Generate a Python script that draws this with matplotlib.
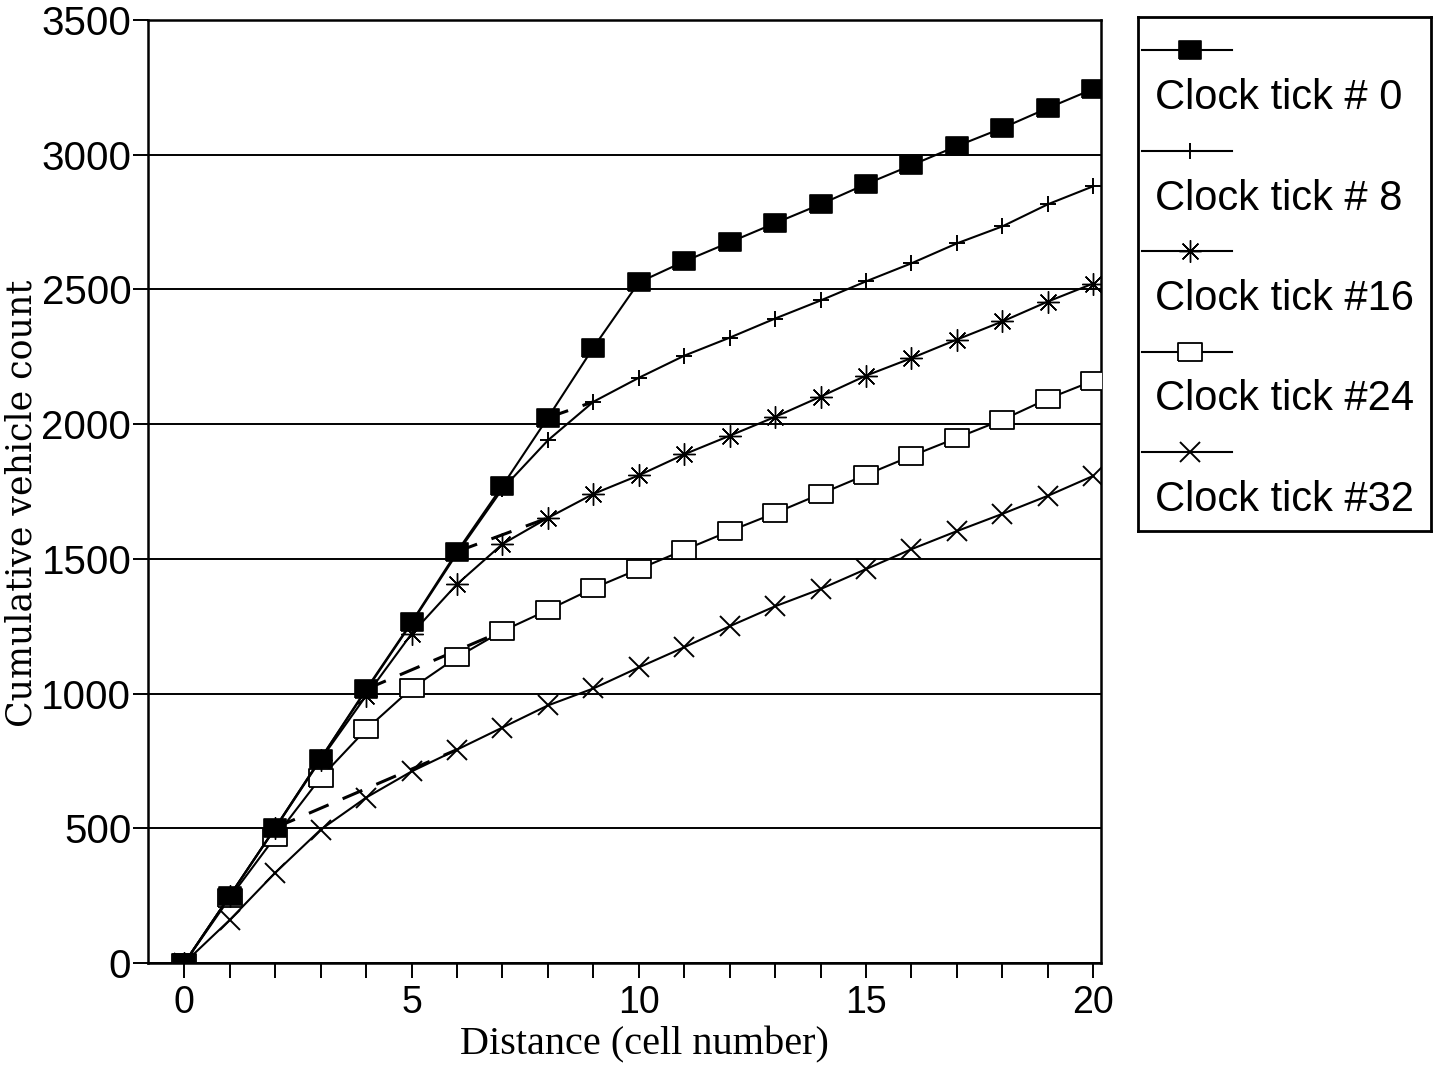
import matplotlib
matplotlib.use('Agg')
import matplotlib.pyplot as plt
import numpy as np

# cell index along the road
cells = list(range(21))

# cumulative vehicle count per cell at each clock tick
tick0 = [0, 250, 502, 759, 1016, 1265, 1527, 1771, 2024, 2284, 2526,
         2604, 2675, 2746, 2816, 2891, 2961, 3032, 3099, 3173, 3244]
tick8 = [0, 250, 502, 759, 1012, 1262, 1520, 1760, 1940, 2083, 2172,
         2254, 2321, 2392, 2459, 2530, 2597, 2671, 2734, 2816, 2883]
tick16 = [0, 250, 500, 755, 992, 1222, 1406, 1555, 1652, 1741, 1810,
          1888, 1957, 2027, 2102, 2180, 2245, 2314, 2381, 2455, 2522]
tick24 = [0, 242, 468, 688, 867, 1019, 1135, 1232, 1310, 1391, 1462,
          1533, 1603, 1670, 1741, 1812, 1882, 1949, 2016, 2094, 2161]
tick32 = [0, 160, 335, 495, 614, 711, 792, 874, 956, 1019, 1097,
          1172, 1250, 1324, 1388, 1462, 1536, 1603, 1667, 1734, 1808]

labels = ['Clock tick # 0', 'Clock tick # 8', 'Clock tick #16',
          'Clock tick #24', 'Clock tick #32']

# dashed links from the tick-0 curve to where each later front joins
link_x = [[8, 9], [6, 8], [4, 7], [2, 6]]
link_y = [[2024, 2083], [1527, 1652], [1016, 1232], [502, 792]]

# a slightly wide box used for the square symbols
box = [(-1.2, -0.95), (1.2, -0.95), (1.2, 0.95), (-1.2, 0.95), (-1.2, -0.95)]

styles = [
    dict(marker=box, ms=16, mfc='black', mec='black', mew=1.2),
    dict(marker='+', ms=12, mec='black', mew=1.4),
    dict(marker=(8, 2, 0), ms=16, mec='black', mew=1.0),
    dict(marker=box, ms=17, mfc='white', mec='black', mew=1.3),
    dict(marker='x', ms=15, mec='black', mew=1.4),
]
series = [tick0, tick8, tick16, tick24, tick32]

fig = plt.figure(figsize=(14.43, 10.67), dpi=100)
ax = fig.add_axes([148 / 1443, 1 - 963 / 1067, (1101 - 148) / 1443, (963 - 20) / 1067])

for i in range(len(series) - 1, -1, -1):
    ax.plot(cells, series[i], color='black', lw=1.5, zorder=3 + (4 - i),
            **styles[i])

for lx, ly in zip(link_x, link_y):
    ax.plot(lx, ly, color='black', lw=2.2, dashes=(7, 5), zorder=2)

ax.set_xlim(-0.8, 20.17)
ax.set_ylim(0, 3500)

ax.set_yticks(np.arange(0, 3501, 500))
ax.yaxis.grid(True, color='black', lw=1.4)
ax.set_axisbelow(True)
ax.tick_params(axis='y', direction='out', length=11, width=1.4, pad=1,
               labelsize=29)
for t in ax.get_yticklabels():
    t.set_fontfamily('Liberation Sans')

ax.set_xticks([0, 5, 10, 15, 20])
ax.set_xticks(range(21), minor=True)
ax.tick_params(axis='x', which='both', direction='out', length=11, width=1.4,
               pad=5, labelsize=27)
for t in ax.get_xticklabels():
    t.set_fontfamily('Liberation Sans')

for side in ['left', 'right', 'top', 'bottom']:
    ax.spines[side].set_linewidth(1.8)

fig.text(22 / 1443, 1 - 503 / 1067, 'Cumulative vehicle count', rotation=90,
         ha='center', va='center', fontsize=25, family='DejaVu Serif')
fig.text(644 / 1443, 1 - 1045 / 1067, 'Distance (cell number)',
         ha='center', va='center', fontsize=29, family='Liberation Serif')

# legend drawn by hand: symbol on one row, its label on the row below
lg = fig.add_axes([1138 / 1443, 1 - 531 / 1067, 293 / 1443, 514 / 1067])
lg.set_xlim(0, 293)
lg.set_ylim(514, 0)
lg.set_xticks([])
lg.set_yticks([])
for side in lg.spines.values():
    side.set_linewidth(2)

for i, lab in enumerate(labels):
    hy = 33 + i * 100.5
    lg.plot([4, 94], [hy, hy], color='black', lw=1.5)
    lg.plot([52], [hy], color='black', lw=0, **styles[i])
    lg.text(17, hy + 48, lab, ha='left', va='center', fontsize=30,
            family='Liberation Sans')

fig.savefig('out.png', dpi=100)
